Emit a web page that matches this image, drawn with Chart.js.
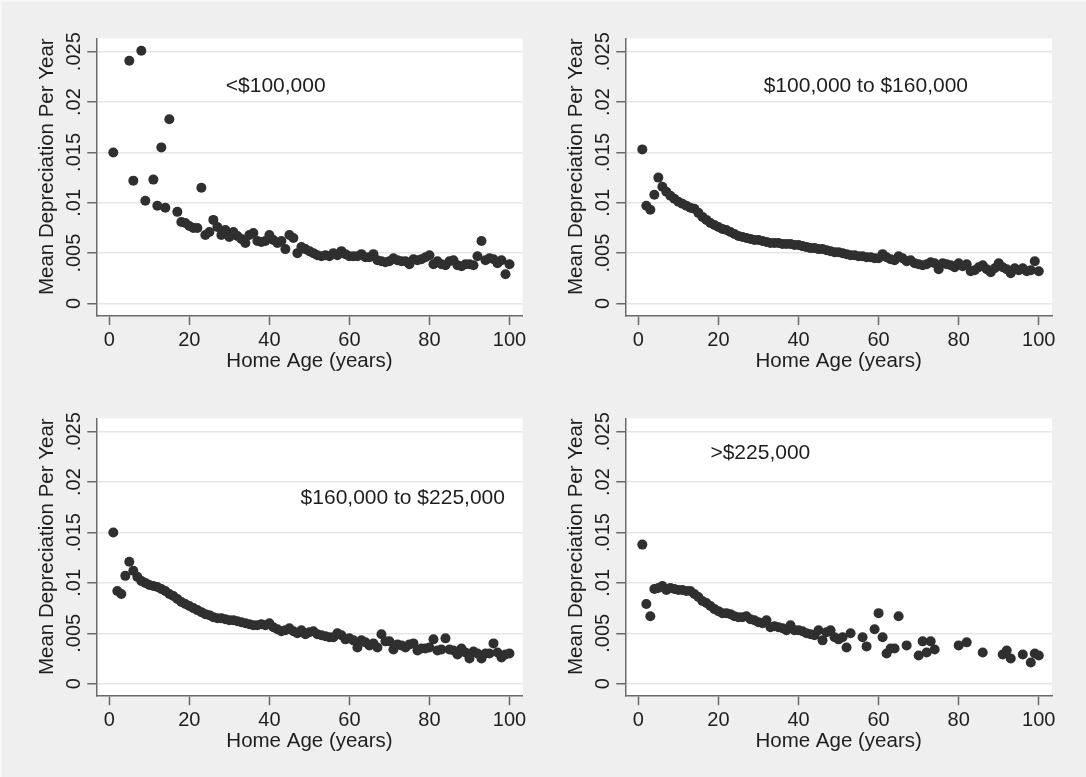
<!DOCTYPE html>
<html>
<head>
<meta charset="utf-8">
<script src="https://cdn.jsdelivr.net/npm/chart.js@4.4.1/dist/chart.umd.min.js"></script>
<style>
html,body{margin:0;padding:0;background:#efefef;}
#wrap{position:relative;width:1086px;height:777px;background:#efefef;overflow:hidden;}
.cell{position:absolute;}
.edge{position:absolute;background:#f7f7f7;}
</style>
</head>
<body>
<div id="wrap">
  <div class="edge" style="left:0;top:0;width:1086px;height:2px"></div>
  <div class="edge" style="left:0;top:0;width:2px;height:777px"></div>
  <canvas class="cell" id="c1" width="543" height="388" style="left:0;top:0"></canvas>
  <canvas class="cell" id="c2" width="543" height="388" style="left:543px;top:0"></canvas>
  <canvas class="cell" id="c3" width="543" height="389" style="left:0;top:388px"></canvas>
  <canvas class="cell" id="c4" width="543" height="389" style="left:543px;top:388px"></canvas>
</div>
<script>
// ---------------- DATA ----------------
const yTickValues = [0, 0.005, 0.01, 0.015, 0.02, 0.025];
const yTickLabels = ['0', '.005', '.01', '.015', '.02', '.025'];
const xTickValues = [0, 20, 40, 60, 80, 100];
const xTickLabels = ['0', '20', '40', '60', '80', '100'];
const panelLabels = ['<$100,000', '$100,000 to $160,000', '$160,000 to $225,000', '>$225,000'];
const xTitle = 'Home Age (years)';
const yTitle = 'Mean Depreciation Per Year';

const agesFull = [1,2,3,4,5,6,7,8,9,10,11,12,13,14,15,16,17,18,19,20,
  21,22,23,24,25,26,27,28,29,30,31,32,33,34,35,36,37,38,39,40,
  41,42,43,44,45,46,47,48,49,50,51,52,53,54,55,56,57,58,59,60,
  61,62,63,64,65,66,67,68,69,70,71,72,73,74,75,76,77,78,79,80,
  81,82,83,84,85,86,87,88,89,90,91,92,93,94,95,96,97,98,99,100];

// Panel 1: < $100,000
const ages1 = [1,5,6,8,9,11,12,13,14,15,17,18,19,20,
  21,22,23,24,25,26,27,28,29,30,31,32,33,34,35,36,37,38,39,40,
  41,42,43,44,45,46,47,48,49,50,51,52,53,54,55,56,57,58,59,60,
  61,62,63,64,65,66,67,68,69,70,71,72,73,74,75,76,77,78,79,80,
  81,82,83,84,85,86,87,88,89,90,91,92,93,94,95,96,97,98,99,100];
const dep1 = [.0150,.0241,.0122,.0251,.0102,.0123,.0097,.0155,.0095,.0183,.0091,.0081,.0080,.0077,
  .0075,.0075,.0115,.0068,.0071,.0083,.0076,.0068,.0073,.0066,.0071,.0067,.0064,.0060,.0068,.0070,.0062,.0061,.0062,.0068,
  .0063,.0060,.0062,.0054,.0068,.0065,.0050,.0056,.0054,.0052,.0050,.0048,.0047,.0048,.0047,.0050,.0048,.0052,.0049,.0047,
  .0047,.0047,.0049,.0046,.0046,.0049,.0043,.0042,.0041,.0042,.0045,.0043,.0042,.0042,.0039,.0044,.0043,.0044,.0046,.0048,
  .0039,.0042,.0039,.0038,.0042,.0043,.0038,.0037,.0039,.0039,.0038,.0047,.0062,.0043,.0045,.0044,.0040,.0043,.0029,.0039];

// Panel 2: $100,000 to $160,000
const dep2 = [.0153,.0097,.0093,.0108,.0125,.0116,.0111,.0107,.0104,.0101,
  .0099,.0097,.0095,.0094,.0090,.0086,.0083,.0080,.0078,.0076,
  .0074,.0073,.0071,.0069,.0067,.0066,.0065,.0064,.0063,.0063,
  .0062,.0061,.0060,.0060,.0060,.0059,.0059,.0059,.0058,.0058,
  .0057,.0056,.0055,.0055,.0054,.0054,.0053,.0052,.0051,.0051,
  .0050,.0049,.0048,.0048,.0047,.0047,.0046,.0046,.0045,.0045,
  .0049,.0046,.0044,.0043,.0047,.0045,.0042,.0043,.0040,.0039,
  .0038,.0039,.0041,.0040,.0034,.0040,.0039,.0038,.0036,.0040,
  .0037,.0039,.0032,.0033,.0036,.0038,.0034,.0031,.0035,.0040,
  .0036,.0034,.0030,.0035,.0033,.0035,.0032,.0033,.0042,.0032];

// Panel 3: $160,000 to $225,000
const dep3 = [.0150,.0092,.0089,.0107,.0121,.0112,.0106,.0102,.0100,.0098,
  .0097,.0096,.0094,.0092,.0089,.0087,.0084,.0081,.0079,.0077,
  .0075,.0073,.0071,.0069,.0068,.0066,.0065,.0065,.0064,.0063,
  .0063,.0062,.0061,.0060,.0059,.0058,.0058,.0059,.0058,.0060,
  .0056,.0054,.0052,.0053,.0055,.0052,.0050,.0053,.0049,.0051,
  .0052,.0049,.0048,.0047,.0046,.0046,.0050,.0048,.0044,.0045,
  .0043,.0036,.0043,.0041,.0038,.0040,.0036,.0049,.0042,.0042,
  .0034,.0039,.0038,.0036,.0039,.0040,.0033,.0035,.0035,.0036,
  .0044,.0033,.0034,.0045,.0034,.0033,.0029,.0035,.0031,.0025,
  .0032,.0030,.0025,.0030,.0030,.0040,.0031,.0026,.0029,.0030];

// Panel 4: > $225,000
const ages4 = [1,2,3,4,5,6,7,8,9,10,11,12,13,14,15,16,17,18,19,20,
  21,22,23,24,25,26,27,28,29,30,31,32,33,34,35,36,37,38,39,40,
  41,42,43,44,45,46,47,48,49,50,51,52,53,56,57,59,60,
  61,62,63,64,65,67,70,71,72,73,74,80,82,86,91,92,93,96,98,99,100];
const dep4 = [.0138,.0079,.0067,.0094,.0095,.0097,.0093,.0095,.0094,.0093,
  .0093,.0092,.0092,.0089,.0086,.0082,.0080,.0077,.0074,.0072,
  .0070,.0070,.0069,.0067,.0066,.0066,.0067,.0064,.0063,.0061,
  .0060,.0063,.0056,.0057,.0056,.0055,.0053,.0058,.0053,.0053,
  .0052,.0050,.0049,.0048,.0053,.0043,.0051,.0053,.0046,.0044,
  .0046,.0036,.0050,.0046,.0037,.0054,.0070,
  .0046,.0030,.0035,.0035,.0067,.0038,.0028,.0042,.0031,.0042,.0034,.0038,.0041,.0031,.0029,.0033,.0025,.0029,.0021,.0030,.0028];

// ---------------- STYLE / LAYOUT ----------------
const FONT = '"Liberation Sans", Arial, Helvetica, sans-serif';
Chart.defaults.font.family = FONT;
Chart.defaults.color = '#1e1e1e';

const AXIS_COLOR = '#6a6a6a';
const GRID_COLOR = '#e6e6e6';
const POINT_COLOR = '#2f2f2f';
const X_RANGE = [-3.25, 103.3];
const Y_RANGE = [-0.00124, 0.02633];
const Y_AXIS_W = 61.1;
const X_AXIS_H = 57.6;

const panels = [
  {id:'c1', ages:ages1,   vals:dep1, label:panelLabels[0], labelAt:[29.1, 0.02153], pad:{left:35.2, top:38.3, right:20.3, bottom:14.4}},
  {id:'c2', ages:agesFull,vals:dep2, label:panelLabels[1], labelAt:[31.3, 0.0216],  pad:{left:21.2, top:38.3, right:34,   bottom:14.4}},
  {id:'c3', ages:agesFull,vals:dep3, label:panelLabels[2], labelAt:[47.8, 0.01839], pad:{left:35.2, top:30.3, right:20.3, bottom:23.2}},
  {id:'c4', ages:ages4,   vals:dep4, label:panelLabels[3], labelAt:[18.0, 0.02286], pad:{left:21.2, top:30.3, right:34,   bottom:23.2}}
];

const plotBg = {
  id: 'plotBg',
  beforeDraw(chart) {
    const {ctx, chartArea: a} = chart;
    ctx.save();
    ctx.fillStyle = '#ffffff';
    ctx.fillRect(a.left, a.top, a.right - a.left, a.bottom - a.top);
    ctx.restore();
  }
};

const panelText = {
  id: 'panelText',
  afterDatasetsDraw(chart, args, opts) {
    if (!opts || !opts.text) return;
    const {ctx} = chart;
    const x = chart.scales.x.getPixelForValue(opts.at[0]);
    const y = chart.scales.y.getPixelForValue(opts.at[1]);
    ctx.save();
    ctx.font = '21px ' + FONT;
    ctx.fillStyle = '#1e1e1e';
    ctx.textAlign = 'left';
    ctx.textBaseline = 'middle';
    ctx.fillText(opts.text, x, y);
    ctx.restore();
  }
};

panels.forEach(p => {
  const pts = p.ages.map((a, i) => ({x: a, y: p.vals[i]}));
  new Chart(document.getElementById(p.id), {
    type: 'scatter',
    data: {
      datasets: [{
        data: pts,
        pointRadius: 5,
        pointHoverRadius: 5,
        pointBackgroundColor: POINT_COLOR,
        pointBorderWidth: 0,
        pointBorderColor: POINT_COLOR
      }]
    },
    options: {
      responsive: false,
      animation: false,
      events: [],
      layout: {padding: p.pad},
      plugins: {
        legend: {display: false},
        tooltip: {enabled: false},
        panelText: {text: p.label, at: p.labelAt}
      },
      scales: {
        x: {
          type: 'linear',
          min: X_RANGE[0],
          max: X_RANGE[1],
          afterBuildTicks(scale) { scale.ticks = xTickValues.map(v => ({value: v})); },
          afterFit(scale) { scale.height = X_AXIS_H; },
          ticks: {
            autoSkip: false,
            maxRotation: 0,
            minRotation: 0,
            padding: 3.5,
            font: {size: 20},
            color: '#1e1e1e',
            callback(value) { const i = xTickValues.indexOf(value); return i >= 0 ? xTickLabels[i] : ''; }
          },
          grid: {
            drawOnChartArea: false,
            drawTicks: true,
            tickLength: 9,
            tickColor: AXIS_COLOR,
            tickWidth: 1.5
          },
          border: {display: true, color: AXIS_COLOR, width: 1.5},
          title: {display: true, text: xTitle, font: {size: 20.5}, color: '#1e1e1e', padding: {top: 0, bottom: 0}}
        },
        y: {
          type: 'linear',
          min: Y_RANGE[0],
          max: Y_RANGE[1],
          afterBuildTicks(scale) { scale.ticks = yTickValues.map(v => ({value: v})); },
          afterFit(scale) { scale.width = Y_AXIS_W; },
          ticks: {
            autoSkip: false,
            minRotation: 90,
            maxRotation: 90,
            crossAlign: 'center',
            padding: -6.5,
            font: {size: 20},
            color: '#1e1e1e',
            callback(value) { const i = yTickValues.indexOf(value); return i >= 0 ? yTickLabels[i] : ''; }
          },
          grid: {
            drawOnChartArea: true,
            color: GRID_COLOR,
            lineWidth: 1.5,
            drawTicks: true,
            tickLength: 9,
            tickColor: AXIS_COLOR,
            tickWidth: 1.5
          },
          border: {display: true, color: AXIS_COLOR, width: 1.5},
          title: {display: true, text: yTitle, align: 'end', font: {size: 20.5}, color: '#1e1e1e', padding: {top: 0, bottom: 0}}
        }
      }
    },
    plugins: [plotBg, panelText]
  });
});
</script>
</body>
</html>
